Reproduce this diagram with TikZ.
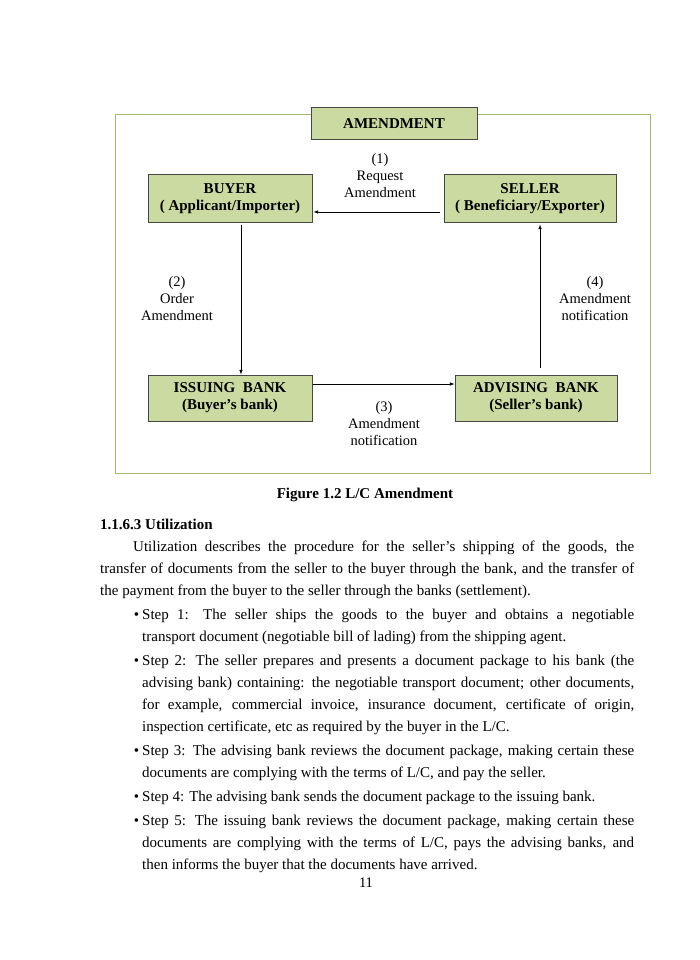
\documentclass[tikz,border=0pt]{standalone}
\usepackage{fontspec}
\setmainfont{Liberation Serif}
\usetikzlibrary{arrows,positioning}
\definecolor{boxfill}{RGB}{203,218,160}
\definecolor{framegreen}{RGB}{160,187,110}
\definecolor{boxline}{RGB}{70,70,70}

\begin{document}
\begin{tikzpicture}[x=1pt,y=-1pt,>=latex,inner sep=1pt,
  party/.style={rectangle,draw=boxline,fill=boxfill,line width=1pt,align=center,
    font=\fontsize{15}{17}\selectfont\bfseries},
  lbl/.style={align=center,font=\fontsize{14.5}{17}\selectfont},
  flow/.style={->,line width=.6pt}]
\useasboundingbox (0,0) rectangle (700,960);
% frame of the figure
\draw[framegreen,line width=1pt] (115,115) rectangle (650,473);
\node[party,minimum width=166,minimum height=32] (amend) at (394,124) {AMENDMENT};
%
\node[party,minimum width=164,minimum height=47] (buyer) at (230,198.5) {BUYER\\( Applicant/Importer)};
\node[party,minimum width=172,minimum height=47] (seller) at (530,198.5) {SELLER\\( Beneficiary/Exporter)};
\node[party,minimum width=164,minimum height=46] (issuing) at (230,398) {ISSUING\ \ BANK\\(Buyer's bank)};
\node[party,minimum width=162,minimum height=46] (advising) at (536,398) {ADVISING\ \ BANK\\(Seller's bank)};
%
\node[lbl] (l1) at (380,176) {(1)\\Request\\Amendment};
\node[lbl] (l2) at (177,299) {(2)\\Order\\Amendment};
\node[lbl] (l3) at (384,424) {(3)\\Amendment\\notification};
\node[lbl] (l4) at (595,299) {(4)\\Amendment\\notification};
%%
\draw[flow] ([xshift=-4pt,yshift=-13.5pt]seller.west) -- ([xshift=1pt,yshift=-13.5pt]buyer.east);
\draw[flow] ([xshift=11pt,yshift=-2pt]buyer.south) -- ([xshift=11pt]issuing.north);
\draw[flow] ([yshift=14pt]issuing.east) -- ([yshift=14pt]advising.west);
\draw[flow] ([xshift=4pt,yshift=7pt]advising.north) -- ([xshift=10pt,yshift=-2pt]seller.south);
%%
\node[font=\fontsize{15}{17}\selectfont\bfseries] (cap) at (365,495) {Figure 1.2 L/C Amendment};
%
\node[anchor=north west,inner sep=0pt,text width=534pt,align=justify,
  font=\fontsize{15}{22}\selectfont] (body) at (100,519) {%
\noindent\textbf{1.1.6.3 Utilization}\par
\setlength{\parindent}{33pt}%
Utilization describes the procedure for the seller's shipping of the goods, the\linebreak
transfer of documents from the seller to the buyer through the bank, and the transfer of\linebreak
the payment from the buyer to the seller through the banks (settlement).
\begin{list}{\textbullet}{\setlength{\leftmargin}{42pt}\setlength{\labelsep}{3pt}%
  \setlength{\labelwidth}{20pt}\setlength{\itemsep}{2pt}\setlength{\parsep}{0pt}%
  \setlength{\topsep}{2pt}\setlength{\partopsep}{0pt}}
\item Step 1: The seller ships the goods to the buyer and obtains a negotiable\linebreak
transport document (negotiable bill of lading) from the shipping agent.
\item Step 2: The seller prepares and presents a document package to his bank (the\linebreak
advising bank) containing: the negotiable transport document; other documents,\linebreak
for example, commercial invoice, insurance document, certificate of origin,\linebreak
inspection certificate, etc as required by the buyer in the L/C.
\item Step 3: The advising bank reviews the document package, making certain these\linebreak
documents are complying with the terms of L/C, and pay the seller.
\item Step 4: The advising bank sends the document package to the issuing bank.
\item Step 5: The issuing bank reviews the document package, making certain these\linebreak
documents are complying with the terms of L/C, pays the advising banks, and\linebreak
then informs the buyer that the documents have arrived.
\end{list}};
\node[font=\fontsize{14.5}{16}\selectfont] (page) at (366,883) {11};
\end{tikzpicture}
\end{document}
